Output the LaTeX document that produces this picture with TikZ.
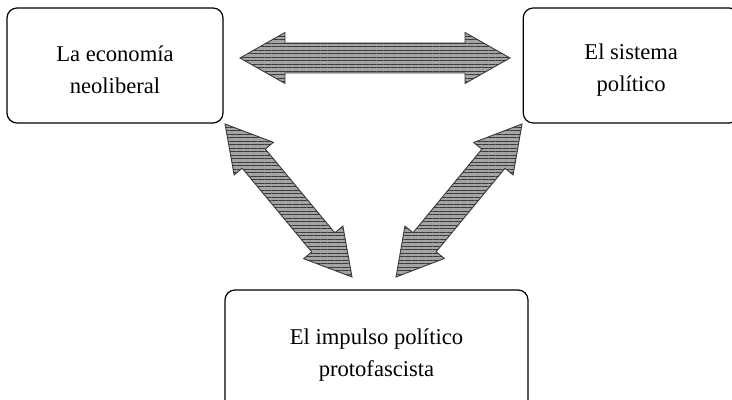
\documentclass[tikz,border=0pt]{standalone}
\usepackage{fontspec}
\setmainfont{Liberation Serif}
\usetikzlibrary{positioning}
\usetikzlibrary{calc}
\usetikzlibrary{patterns.meta}
\definecolor{arrowgray}{HTML}{A4A4A4}
\definecolor{linegray}{HTML}{3A3A3A}
\newcommand\topstrut{\rule{0pt}{12.5pt}}
\tikzset{mybox/.style={draw, rounded corners=5pt, line width=0.6pt, align=center,
minimum width=108pt, minimum height=57.5pt, font=\fontsize{11.3}{16}\selectfont},
hatched/.style={draw=linegray, line width=0.45pt, line join=miter,
preaction={fill=arrowgray}, pattern={Lines[distance=1.75pt, line width=0.3pt]}, pattern color=linegray}}
\newcommand\fatarrow[2]{%
\coordinate (h1) at ($(#1)!22.5pt!(#2)$);
\coordinate (h2) at ($(#2)!22.5pt!(#1)$);
\draw[hatched] (#1) -- ($(h1)!12.75pt!90:(#2)$) -- ($(h1)!7.5pt!90:(#2)$)
-- ($(h2)!7.5pt!-90:(#1)$) -- ($(h2)!12.75pt!-90:(#1)$) -- (#2)
-- ($(h2)!12.75pt!90:(#1)$) -- ($(h2)!7.5pt!90:(#1)$)
-- ($(h1)!7.5pt!-90:(#2)$) -- ($(h1)!12.75pt!-90:(#2)$) -- cycle;}

\begin{document}
\begin{tikzpicture}[x=0.5pt, y=-0.5pt]
\useasboundingbox (0,0) rectangle (732,400);
\node[mybox] (eco) at (115,65.5) {\topstrut La economía\\neoliberal};
\node[mybox, right=149.5pt of eco] (sis) {\topstrut El sistema\\político};
\node[mybox, minimum width=151.5pt, minimum height=60pt] (imp) at (376.5,350) {\topstrut El impulso político\\protofascista};
\coordinate (ecoR) at (240,58);
\coordinate (sisL) at (510,58);
\coordinate (ecoD) at (225,124);
\coordinate (impL) at (352,277);
\coordinate (sisD) at (522,124);
\coordinate (impR) at (396,277);
\fatarrow{ecoR}{sisL}
\fatarrow{ecoD}{impL}
\fatarrow{sisD}{impR}
\end{tikzpicture}
\end{document}
